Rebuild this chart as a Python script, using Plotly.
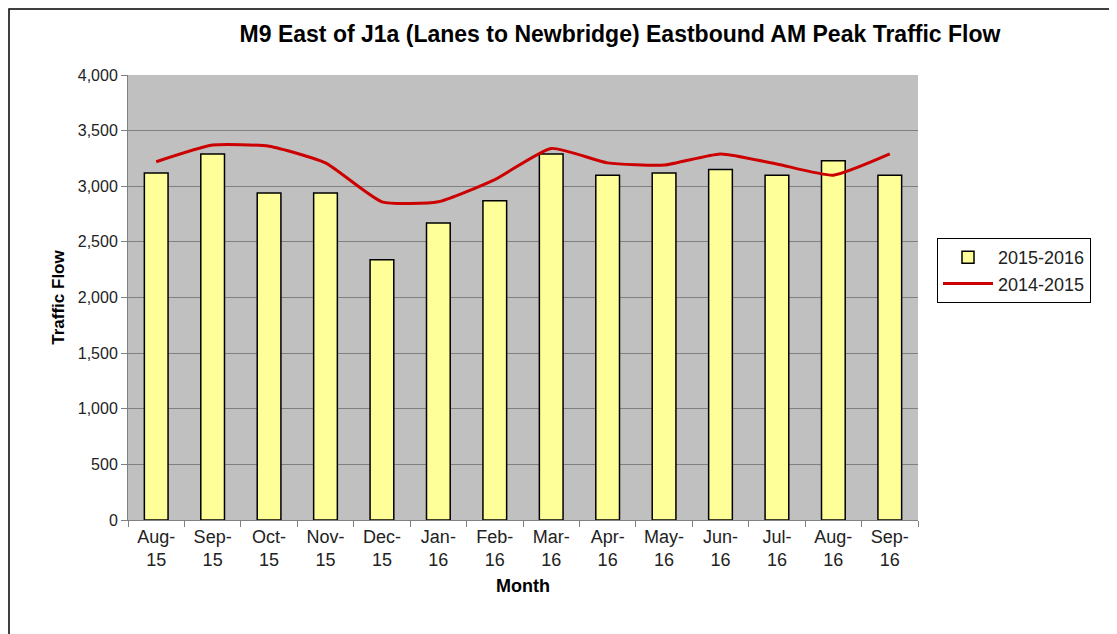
import plotly.graph_objects as go

months = ["Aug-<br>15", "Sep-<br>15", "Oct-<br>15", "Nov-<br>15", "Dec-<br>15", "Jan-<br>16", "Feb-<br>16",
          "Mar-<br>16", "Apr-<br>16", "May-<br>16", "Jun-<br>16", "Jul-<br>16", "Aug-<br>16", "Sep-<br>16"]
flow_2015_2016 = [3120, 3290, 2940, 2940, 2340, 2670, 2870, 3290, 3100, 3120, 3150, 3100, 3230, 3100]
flow_2014_2015 = [3220, 3370, 3360, 3210, 2860, 2860, 3060, 3340, 3210, 3190, 3290, 3200, 3100, 3290]

# page body has an 8px margin, so the figure is drawn 8px in from the window corner
OFF = 8
W, H = 1117 - OFF, 634 - OFF
# plot area in window pixels
L, R, T, B = 128, 918, 75, 520


def px_x(v):
    return (v - L) / (R - L)


def px_y(v):
    return (B - v) / (B - T)


FONT = "Arial, Liberation Sans, sans-serif"

fig = go.Figure()
fig.add_trace(go.Bar(
    x=months, y=flow_2015_2016, name="2015-2016", legendgroup="a",
    marker=dict(color="#FFFF99", line=dict(color="black", width=1.5)),
    width=0.42,
))
fig.add_trace(go.Scatter(
    x=months, y=flow_2014_2015, name="2014-2015", mode="lines", legendgroup="b",
    line=dict(color="#CC0000", width=3, shape="spline", smoothing=0.5),
))

fig.update_layout(
    width=W, height=H,
    margin=dict(l=L - OFF, r=W - (R - OFF), t=T - OFF, b=H - (B - OFF)),
    paper_bgcolor="white",
    plot_bgcolor="#C0C0C0",
    font=dict(family=FONT, size=15, color="#222222"),
    title=dict(
        text="<b>M9 East of J1a (Lanes to Newbridge) Eastbound AM Peak Traffic Flow</b>",
        x=(620 - OFF) / W, xanchor="center", y=1 - (34 - OFF) / H, yanchor="middle",
        font=dict(family=FONT, size=23, color="black"),
    ),
    showlegend=True,
    legend=dict(
        x=px_x(937), y=px_y(238), xanchor="left", yanchor="top",
        bordercolor="black", borderwidth=1, bgcolor="white",
        font=dict(family=FONT, size=18, color="#222222"),
        traceorder="normal", tracegroupgap=14, itemwidth=50,
    ),
)

fig.update_xaxes(
    type="category", tickson="boundaries", ticks="outside", ticklen=6, tickcolor="#808080",
    showline=True, linecolor="#808080", linewidth=1, showgrid=False,
    tickfont=dict(family=FONT, size=18, color="#222222"),
    title=dict(text="<b>Month</b>", font=dict(family=FONT, size=18, color="black"), standoff=10),
)
fig.update_yaxes(
    range=[0, 4000], dtick=500, tickformat=",", ticks="outside", ticklen=6, tickcolor="#808080",
    showline=True, linecolor="#808080", linewidth=1,
    showgrid=True, gridcolor="#808080", gridwidth=1, zeroline=False,
    tickfont=dict(family=FONT, size=16, color="#222222"),
    title=dict(text="<b>Traffic Flow</b>", font=dict(family=FONT, size=17, color="black"), standoff=8),
)

# outer chart frame; its bottom edge runs past the bottom of the window as in the source
fig.add_shape(
    type="rect", xref="paper", yref="paper",
    x0=px_x(9), x1=px_x(1113), y0=px_y(645), y1=px_y(9),
    line=dict(color="black", width=1.5), fillcolor="rgba(0,0,0,0)", layer="above",
)

fig.write_html("out.html")
